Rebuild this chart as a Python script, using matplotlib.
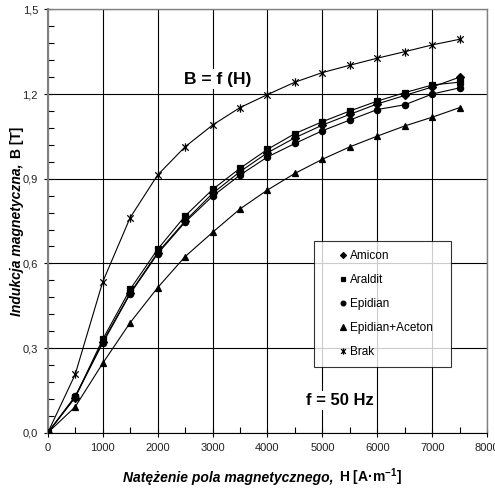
import matplotlib
matplotlib.use('Agg')
import matplotlib.pyplot as plt
from matplotlib.path import Path
from matplotlib.ticker import MultipleLocator, FuncFormatter
from matplotlib.legend_handler import HandlerLine2D

plt.rcParams['font.family'] = ['Liberation Sans', 'DejaVu Sans']
plt.rcParams['mathtext.fontset'] = 'custom'
plt.rcParams['mathtext.rm'] = 'Liberation Sans:bold'
plt.rcParams['mathtext.default'] = 'rm'

# natezenie pola H [A/m]
H = [0, 500, 1000, 1500, 2000, 2500, 3000, 3500, 4000, 4500, 5000, 5500, 6000, 6500, 7000, 7500]

# indukcja B [T]
amicon = [0, 0.125, 0.322, 0.495, 0.638, 0.750, 0.848, 0.925, 0.992, 1.045, 1.090, 1.128, 1.165, 1.195, 1.225, 1.260]
araldit = [0, 0.126, 0.331, 0.508, 0.650, 0.768, 0.862, 0.937, 1.004, 1.060, 1.102, 1.140, 1.175, 1.205, 1.232, 1.242]
epidian = [0, 0.130, 0.317, 0.492, 0.634, 0.746, 0.838, 0.913, 0.977, 1.025, 1.070, 1.108, 1.145, 1.162, 1.200, 1.222]
epidian_aceton = [0, 0.092, 0.246, 0.390, 0.514, 0.624, 0.710, 0.793, 0.860, 0.919, 0.969, 1.013, 1.051, 1.087, 1.118, 1.152]
brak = [0, 0.207, 0.534, 0.762, 0.913, 1.013, 1.090, 1.152, 1.198, 1.242, 1.276, 1.302, 1.327, 1.350, 1.374, 1.394]

labels = ['Amicon', 'Araldit', 'Epidian', 'Epidian+Aceton', 'Brak']

# gwiazdka jak w Excelu: x z pionowa kreska
star = Path([(-1, -1), (1, 1), (-1, 1), (1, -1), (0, -1.3), (0, 1.3)],
            [Path.MOVETO, Path.LINETO, Path.MOVETO, Path.LINETO, Path.MOVETO, Path.LINETO])

fig = plt.figure(figsize=(4.95, 4.9), dpi=100)
ax = fig.add_axes([0.0964, 0.1167, 0.888, 0.8643])

series = [amicon, araldit, epidian, epidian_aceton, brak]
markers = ['D', 's', 'o', '^', star]
sizes = [4, 4.5, 4.5, 5, 6]
handles = []
for ys, m, ms, lab in zip(series, markers, sizes, labels):
    ax.plot(H, ys, color='black', lw=0.8, zorder=3)
    h, = ax.plot(H, ys, ls='none', marker=m, ms=ms, color='black',
                 mfc='black', mec='black', mew=0.9, zorder=4, label=lab)
    handles.append(h)

ax.set_xlim(0, 8000)
ax.set_ylim(0, 1.5)
ax.xaxis.set_major_locator(MultipleLocator(1000))
ax.xaxis.set_minor_locator(MultipleLocator(500))
ax.yaxis.set_major_locator(MultipleLocator(0.3))
ax.yaxis.set_minor_locator(MultipleLocator(0.06))
ax.yaxis.set_major_formatter(FuncFormatter(lambda v, p: ('%.1f' % v).replace('.', ',')))
ax.tick_params(which='major', direction='inout', length=6, width=0.8, labelsize=8,
               labelcolor='#222222', pad=4)
ax.tick_params(which='minor', direction='in', length=4, width=0.8)
ax.grid(True, which='major', color='black', lw=0.8)
ax.set_axisbelow(True)

for s in ['top', 'right']:
    ax.spines[s].set_color('#808080')
    ax.spines[s].set_linewidth(1.0)
ax.spines['left'].set_color('#808080')
ax.spines['left'].set_linewidth(1.5)
ax.spines['bottom'].set_linewidth(0.8)

ax.text(3100, 1.253, 'B = f (H)', fontsize=12.5, fontweight='bold', ha='center', va='center',
        bbox=dict(facecolor='white', edgecolor='none', pad=1.5), zorder=5)
ax.text(5310, 0.114, 'f = 50 Hz', fontsize=12, fontweight='bold', ha='center', va='center',
        bbox=dict(facecolor='white', edgecolor='none', pad=1.5), zorder=5)

leg = ax.legend(handles=handles, loc='upper left', bbox_to_anchor=(0.6065, 0.453, 0.311, 0.0),
                mode='expand', fontsize=8.5, frameon=True, fancybox=False, borderaxespad=0,
                handlelength=2.2, handletextpad=0.1, labelspacing=1.02, borderpad=0.75,
                markerscale=0.75, handler_map={h: HandlerLine2D(xpad=1.2) for h in handles})
leg.get_frame().set_edgecolor('black')
leg.get_frame().set_linewidth(0.8)
leg.set_zorder(6)

# opisy osi: czesc pochylona + czesc prosta, na wspolnej linii bazowej
tx = fig.text(0.248, 0.017, 'Natężenie pola magnetycznego,', fontsize=10,
              fontweight='bold', fontstyle='italic', ha='left', va='baseline')
ty = fig.text(0.0424, 0.355, 'Indukcja magnetyczna,', fontsize=10, rotation=90,
              rotation_mode='anchor', fontweight='bold', fontstyle='italic',
              ha='left', va='baseline')
fig.canvas.draw()
r = fig.canvas.get_renderer()
bx = tx.get_window_extent(r)
by = ty.get_window_extent(r)
W, Hpx = fig.bbox.width, fig.bbox.height
fig.text(bx.x1 / W + 0.012, 0.017, 'H [A·m$^{-1}$]', fontsize=10, fontweight='bold',
         ha='left', va='baseline')
fig.text(0.0424, by.y1 / Hpx + 0.012, 'B [T]', fontsize=10, fontweight='bold', rotation=90,
         rotation_mode='anchor', ha='left', va='baseline')

fig.savefig('out.png', dpi=100)
